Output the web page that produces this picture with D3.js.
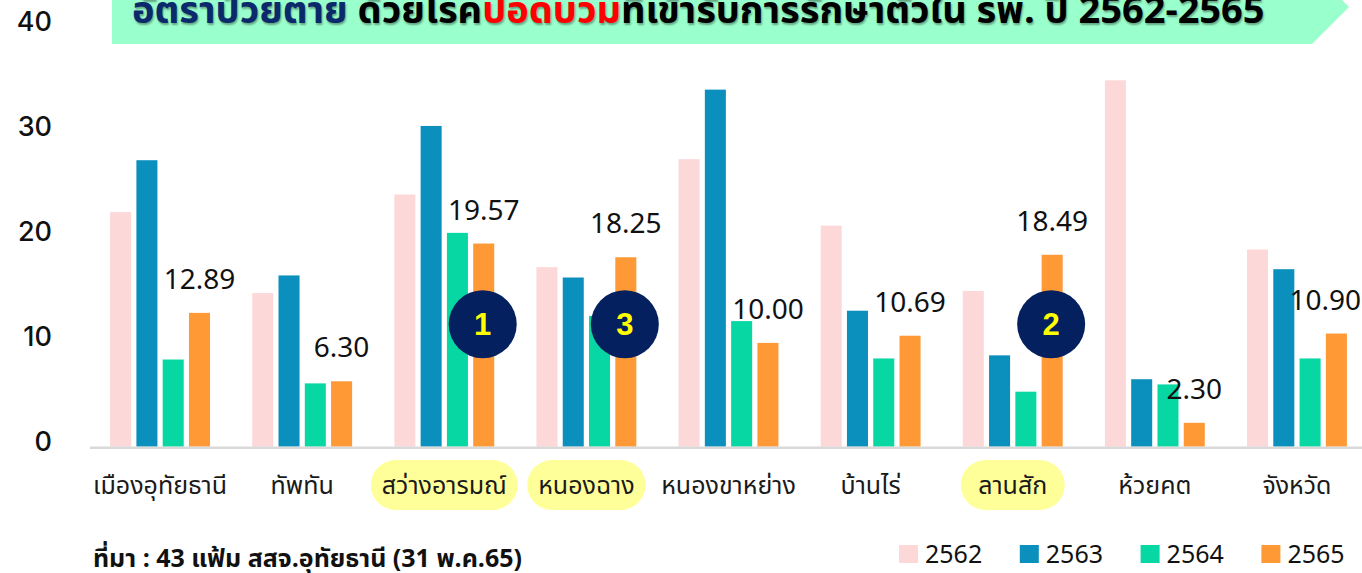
<!DOCTYPE html>
<html>
<head>
<meta charset="utf-8">
<script src="https://cdn.jsdelivr.net/npm/d3@7"></script>
<style>
  body { margin: 0; background: #fff; }
  svg { display: block; font-family: "Noto Sans Thai", "Noto Sans", "DejaVu Sans", sans-serif; }
</style>
</head>
<body>
<div id="chart"></div>
<script>
// Data
const categories = ["เมืองอุทัยธานี", "ทัพทัน", "สว่างอารมณ์", "หนองฉาง", "หนองขาหย่าง", "บ้านไร่", "ลานสัก", "ห้วยคต", "จังหวัด"];
const years = ["2562", "2563", "2564", "2565"];
const v2562 = [22.6, 14.8, 24.3, 17.3, 27.7, 21.3, 15.0, 35.3, 19.0];
const v2563 = [27.6, 16.5, 30.9, 16.3, 34.4, 13.1, 8.8, 6.5, 17.1];
const v2564 = [8.4, 6.1, 20.6, 12.6, 12.1, 8.5, 5.3, 6.0, 8.5];
const v2565 = [12.89, 6.30, 19.57, 18.25, 10.00, 10.69, 18.49, 2.30, 10.90];
const highlighted = ["สว่างอารมณ์", "หนองฉาง", "ลานสัก"];
const ranks = [null, null, 1, 3, null, null, 2, null, null];
const yTicks = [0, 10, 20, 30, 40];

const colors = ["#fdd8d9", "#0b8fbc", "#07d8a3", "#fe9935"];
const W = 1362, H = 573;

const svg = d3.select("#chart")
  .append("svg")
    .attr("width", W)
    .attr("height", H);

// Title band (arrow shaped, cut at the top of the picture)
svg.append("path")
  .attr("d", "M112,-30 L1312,-30 L1349,7 L1312,44 L112,44 Z")
  .attr("fill", "#99ffcc");

const title = svg.append("text")
  .attr("x", 132)
  .attr("y", 23)
  .attr("font-size", 36)
  .attr("font-weight", 700)
  .style("text-shadow", "1px 2px 2px rgba(0,0,0,0.35)");
title.append("tspan").attr("fill", "#0b2a6b").text("อัตราป่วยตาย");
title.append("tspan").attr("fill", "#000").text(" ด้วยโรค");
title.append("tspan").attr("fill", "#ff0000").text("ปอดบวม");
title.append("tspan").attr("fill", "#000").text("ที่เข้ารับการรักษาตัวใน รพ. ปี 2562-2565");
// stretch the title to the width it has in the picture
const tw = title.node().getComputedTextLength();
title.attr("font-size", 36 * 1133 / tw);

// Scales
const x0 = d3.scaleBand()
  .domain(categories)
  .range([89, 1368])
  .paddingInner(0.26)
  .paddingOuter(0.13);

const x1 = d3.scaleBand()
  .domain(years)
  .range([0, x0.bandwidth()])
  .paddingInner(0.2)
  .paddingOuter(0.1);

const y = d3.scaleLinear()
  .domain([0, 40])
  .range([446.7, 31.5]);

// tick labels sit a little off the bar scale in the picture
const yLabel = d3.scaleLinear()
  .domain([0, 40])
  .range([442, 22]);

// Y axis (labels only)
const yAxis = svg.append("g")
  .attr("transform", "translate(52,0)")
  .call(d3.axisLeft(yLabel).tickValues(yTicks).tickSize(0).tickPadding(0));
yAxis.select(".domain").remove();
yAxis.selectAll("text")
  .attr("font-size", 27)
  .attr("font-weight", 500)
  .attr("font-family", "Inter, 'Noto Sans', sans-serif")
  .attr("fill", "#111");

// Bars
const rows = categories.map((c, i) => ({
  category: c,
  values: [v2562[i], v2563[i], v2564[i], v2565[i]].map((v, j) => ({ year: years[j], value: v }))
}));

const groups = svg.selectAll(".bar-group")
  .data(rows)
  .enter().append("g")
    .attr("class", "bar-group")
    .attr("transform", d => `translate(${x0(d.category)},0)`);

groups.selectAll("rect")
  .data(d => d.values)
  .enter().append("rect")
    .attr("x", d => x1(d.year))
    .attr("y", d => y(d.value))
    .attr("width", x1.bandwidth())
    .attr("height", d => y(0) - y(d.value))
    .attr("fill", (d, j) => colors[j]);

// Baseline
svg.append("line")
  .attr("x1", 90).attr("x2", W)
  .attr("y1", y(0) + 1).attr("y2", y(0) + 1)
  .attr("stroke", "#d9d9d9")
  .attr("stroke-width", 2.5);

// Value labels of 2565
const valLabels = svg.selectAll(".val")
  .data(rows)
  .enter().append("text")
    .attr("class", "val")
    .attr("font-size", 28)
    .attr("font-family", "'Noto Sans', sans-serif")
    .attr("fill", "#111")
    .attr("text-anchor", "middle")
    .attr("y", d => y(d.values[3].value) - 24)
    .text(d => d.values[3].value.toFixed(2));
valLabels.attr("x", function (d) {
  const cx = x0(d.category) + x1("2565") + x1.bandwidth() / 2;
  const half = this.getComputedTextLength() / 2;
  return Math.min(cx, W - half - 1);
});

// Rank badges
const ranked = rows.map((d, i) => ({ ...d, rank: ranks[i] })).filter(d => d.rank !== null);
const badges = svg.selectAll(".badge")
  .data(ranked)
  .enter().append("g")
    .attr("class", "badge")
    .attr("transform", d => `translate(${x0(d.category) + x1("2565") + x1.bandwidth() / 2 - 1},${y(11.8)})`);
badges.append("circle")
  .attr("r", 34)
  .attr("fill", "#04205e");
badges.append("text")
  .attr("text-anchor", "middle")
  .attr("dy", "0.36em")
  .attr("font-size", 31)
  .attr("font-weight", 700)
  .attr("font-family", "'Liberation Sans', Arial, sans-serif")
  .attr("fill", "#ffff00")
  .text(d => d.rank);

// Category axis
const xAxis = svg.append("g")
  .attr("transform", "translate(0,485)")
  .call(d3.axisBottom(x0).tickSize(0).tickPadding(0));
xAxis.select(".domain").remove();
xAxis.selectAll("text")
  .attr("dy", "0.35em")
  .attr("font-size", 25)
  .attr("font-family", "'Noto Sans Thai', 'Noto Sans', sans-serif")
  .attr("fill", "#1a1a1a");

// yellow pills behind the highlighted districts
xAxis.selectAll(".tick").each(function (d) {
  if (!highlighted.includes(d)) return;
  const t = d3.select(this);
  const w = Math.max(t.select("text").node().getComputedTextLength() + 22, 104);
  t.insert("rect", "text")
    .attr("x", -w / 2)
    .attr("y", -25)
    .attr("width", w)
    .attr("height", 50)
    .attr("rx", 25)
    .attr("fill", "#ffff99");
});

// Source note
svg.append("text")
  .attr("x", 93)
  .attr("y", 567)
  .attr("font-size", 25)
  .attr("font-weight", 700)
  .attr("fill", "#111")
  .text("ที่มา : 43 แฟ้ม สสจ.อุทัยธานี (31 พ.ค.65)");

// Legend
const legend = svg.selectAll(".legend")
  .data(years)
  .enter().append("g")
    .attr("class", "legend")
    .attr("transform", (d, i) => `translate(${899 + i * 120.8},545)`);
legend.append("rect")
  .attr("width", 19)
  .attr("height", 18)
  .attr("fill", (d, i) => colors[i]);
legend.append("text")
  .attr("x", 26)
  .attr("y", 9)
  .attr("dy", "0.36em")
  .attr("font-size", 25)
  .attr("font-family", "'Noto Sans', sans-serif")
  .attr("fill", "#111")
  .text(d => d);
</script>
</body>
</html>
